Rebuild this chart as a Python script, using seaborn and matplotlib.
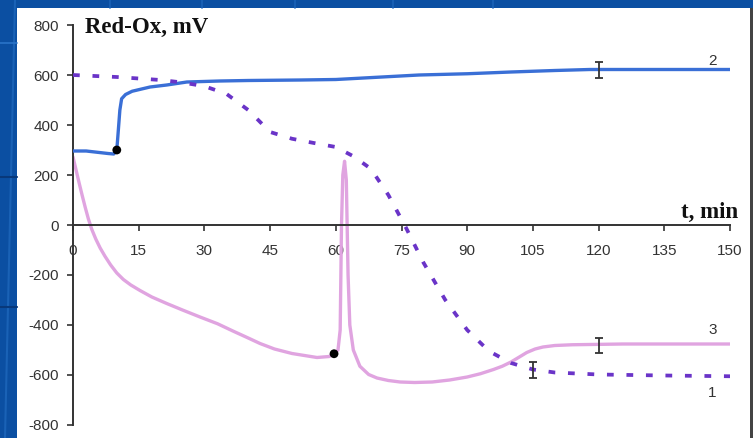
import matplotlib
matplotlib.use("Agg")
import matplotlib.pyplot as plt
from matplotlib.patches import Rectangle
from matplotlib.lines import Line2D
import seaborn as sns
import pandas as pd

# Time axis (min) and redox potential (mV) for the three experiments
t_ticks = [0, 15, 30, 45, 60, 75, 90, 105, 120, 135, 150]
y_ticks = [800, 600, 400, 200, 0, -200, -400, -600, -800]

# Curve 1 (dashed)
t1 = [0, 10, 20, 25, 30, 35, 40, 45, 50, 55, 60, 64, 68, 72, 76, 80, 85, 90, 95,
      100, 105, 110, 120, 135, 150]
v1 = [600, 592, 580, 570, 555, 525, 460, 372, 345, 328, 312, 275, 225, 120, -10,
      -150, -300, -420, -505, -552, -578, -590, -598, -602, -605]

# Curve 2 (solid blue)
t2 = [0, 3, 6, 8, 9.3, 10, 10.3, 10.7, 11.1, 12, 13.5, 17.6, 21.4, 26, 33.5, 40,
      52, 60, 79, 90, 100, 110, 118, 135, 150]
v2 = [296, 296, 290, 286, 284, 300, 368, 460, 505, 522, 535, 552, 560, 572, 576,
      578, 580, 582, 600, 605, 612, 618, 622, 622, 622]

# Curve 3 (solid pink)
t3 = [0, 0.7, 1.4, 2.1, 2.8, 3.5, 4.3, 5.2, 6.2, 7.3, 8.6, 10, 11.5, 13.2, 15.3,
      18, 21.4, 25, 29, 33, 36.5, 40, 42.7, 46, 50, 55.7, 58.5, 59.6, 60.5, 61,
      61.3, 61.6, 62, 62.4, 62.8, 63.2, 64, 65.5, 67.5, 69.4, 72, 74.7, 78, 82,
      86, 90, 93, 96, 98, 100, 102, 103.6, 105.5, 107.3, 110, 114, 125.6, 150]
v3 = [272, 220, 168, 118, 70, 25, -18, -56, -92, -125, -160, -192, -218, -240,
      -262, -288, -314, -340, -368, -395, -424, -452, -474, -496, -514, -530,
      -526, -515, -500, -420, 0, 200, 255, 180, -200, -400, -500, -565, -598,
      -612, -622, -628, -630, -628, -620, -608, -595, -578, -565, -548, -527,
      -510, -496, -488, -482, -479, -476, -476]

# Marked start points and error bars
dot_t = [10, 59.6]
dot_v = [300, -515]
err_t = [120, 105, 120]
err_v = [620, -580, -482]
err_e = [32, 32, 30]

# Curve numbers
lab_text = ["2", "3", "1"]
lab_t = [146, 146, 146]
lab_v = [655, -420, -672]

sns.set_style("white")
plt.rcParams["font.family"] = ["Liberation Sans", "DejaVu Sans"]

W, H = 753, 438
fig = plt.figure(figsize=(W / 100, H / 100), dpi=100)
fig.patch.set_facecolor("#0b4fa2")

# slide decoration behind the chart panel
for x in [110, 202, 295, 393, 493]:
    fig.add_artist(Line2D([x / W, x / W], [1 - 8 / H, 1], color="#1a62b6", lw=1.2))
fig.add_artist(Line2D([15 / W, 5 / W], [1, 0], color="#1a62b6", lw=1.5))
fig.add_artist(Line2D([0, 17 / W], [1 - 43 / H, 1 - 43 / H], color="#2a74c8", lw=1.2))
for y in [177, 307]:
    fig.add_artist(Line2D([0, 17 / W], [1 - y / H, 1 - y / H], color="#08387a", lw=1.5))

# white chart panel
fig.add_artist(Rectangle((17 / W, 0), 733 / W, 430 / H, transform=fig.transFigure,
                         facecolor="white", edgecolor="none", zorder=0))
fig.add_artist(Rectangle((750 / W, 0), 3 / W, 430 / H, transform=fig.transFigure,
                         facecolor="#444444", edgecolor="none", zorder=0))

ax = fig.add_axes([73 / W, 13 / H, 657 / W, 400 / H])
ax.set_facecolor("none")

d1 = pd.DataFrame({"t": t1, "v": v1})
d2 = pd.DataFrame({"t": t2, "v": v2})
d3 = pd.DataFrame({"t": t3, "v": v3})

sns.lineplot(data=d3, x="t", y="v", ax=ax, sort=False, estimator=None,
             color="#e0a4e0", lw=2.4, zorder=2)
sns.lineplot(data=d2, x="t", y="v", ax=ax, sort=False, estimator=None,
             color="#3a6fd6", lw=2.4, zorder=3)
sns.lineplot(data=d1, x="t", y="v", ax=ax, sort=False, estimator=None,
             color="#6a34c8", lw=2.7, zorder=3, dashes=False,
             linestyle=(0, (1.8, 3.4)))
sns.scatterplot(x=dot_t, y=dot_v, ax=ax, color="black", s=40, zorder=5,
                edgecolor="none")
ax.errorbar(err_t, err_v, yerr=err_e, fmt="none", ecolor="#333333", elinewidth=1.3,
            capsize=3.2, capthick=1.3, zorder=6)

for s, tt, vv in zip(lab_text, lab_t, lab_v):
    ax.text(tt, vv, s, fontsize=11, color="#333333", ha="center", va="center")

ax.text(2.7, 790, "Red-Ox, mV", fontsize=16.5, fontweight="bold", ha="left",
        va="center", family=["Liberation Serif", "DejaVu Serif"], color="#111111")
ax.text(151.8, 50, "t, min", fontsize=16.5, fontweight="bold", ha="right",
        va="center", family=["Liberation Serif", "DejaVu Serif"], color="#111111")

ax.set_xlim(0, 150)
ax.set_ylim(-800, 800)
ax.set_xticks(t_ticks)
ax.set_yticks(y_ticks)
ax.set_xticklabels([str(v) for v in t_ticks])
ax.set_yticklabels([str(v) for v in y_ticks])
ax.set_xlabel("")
ax.set_ylabel("")

for side in ["top", "right"]:
    ax.spines[side].set_visible(False)
ax.spines["bottom"].set_position(("data", 0))
for side in ["left", "bottom"]:
    ax.spines[side].set_color("#333333")
    ax.spines[side].set_linewidth(1.4)
ax.tick_params(axis="both", direction="out", length=4, width=1.2, color="#333333",
               labelsize=11, labelcolor="#333333")
ax.tick_params(axis="x", pad=10)
ax.tick_params(axis="y", pad=6)
ax.xaxis.set_ticks_position("bottom")
ax.yaxis.set_ticks_position("left")

fig.savefig("out.png", dpi=100)
